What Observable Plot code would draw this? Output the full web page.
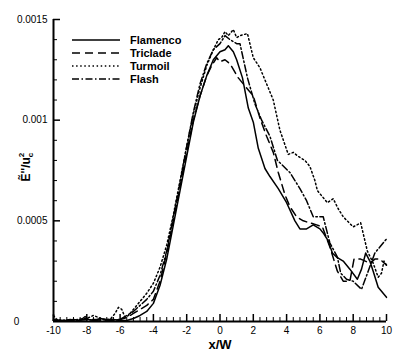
<!DOCTYPE html>
<html><head><meta charset="utf-8">
<script src="https://cdn.jsdelivr.net/npm/d3@7"></script>
<script src="https://cdn.jsdelivr.net/npm/@observablehq/plot@0.6"></script>
<style>
body{margin:0;background:#fff;}
#chart svg{display:block;}
</style></head><body><div id="chart"></div>
<script>
// ---- data (y values in units of 1e-4) ----
const seriesNames = ["Flamenco", "Triclade", "Turmoil", "Flash"];

const flamencoX = [-10,-9.6,-9.2,-8.8,-8.4,-8.1,-7.9,-7.6,-7.2,-6.8,-6.4,-6.0,-5.6,-5.2,-4.8,-4.4,-4.0,-3.6,-3.2,-2.8,-2.4,-2.0,-1.6,-1.2,-0.8,-0.4,0,0.3,0.5,0.8,1.0,1.35,1.7,2.0,2.3,2.7,3.0,3.5,4.0,4.5,4.8,5.2,5.6,6.0,6.2,6.5,6.75,7.0,7.4,7.8,8.25,8.5,8.75,9.0,9.2,9.5,10];
const flamencoY = [0.1,0.05,0.05,0.1,0.05,0.25,0.1,0.05,0.15,0.1,0.1,0.05,0.05,0.15,0.3,0.5,0.9,1.8,3.1,4.8,6.5,8.2,9.9,11.2,12.2,13.0,13.4,13.5,13.7,13.4,13.0,12.1,10.6,9.9,8.6,7.6,7.2,6.6,5.9,5.0,4.6,4.6,4.8,4.6,4.4,4.0,3.4,3.2,3.0,2.6,2.1,2.6,3.4,3.0,2.5,1.7,1.2];

const tricladeX = [-10,-9.5,-9,-8.5,-8,-7.5,-7,-6.5,-6,-5.6,-5.2,-4.8,-4.4,-4.0,-3.6,-3.2,-2.8,-2.4,-2.0,-1.6,-1.2,-0.8,-0.5,-0.2,0,0.3,0.6,1.1,1.7,2.0,2.4,2.8,3.2,3.5,3.9,4.2,4.6,5.0,5.4,5.8,6.15,6.6,7.05,7.4,7.8,8.05,8.45,9.0,9.3,9.6,10];
const tricladeY = [0.05,0.05,0.05,0.1,0.1,0.1,0.05,0.1,0.1,0.2,0.4,0.6,0.8,1.1,2.0,3.4,5.0,6.7,8.4,10.0,11.2,12.2,12.7,13.1,12.9,13.0,12.8,12.1,11.5,11.2,10.1,9.2,8.4,7.4,6.3,5.7,5.2,5.0,4.9,4.8,4.7,3.7,2.5,2.0,2.0,3.1,3.1,2.9,3.1,3.1,2.8];

const turmoilX = [-10,-9.8,-9.5,-9,-8.5,-8,-7.6,-7.3,-7,-6.6,-6.3,-6.1,-5.9,-5.7,-5.5,-5.2,-4.8,-4.4,-4.0,-3.6,-3.2,-2.8,-2.4,-2.0,-1.6,-1.2,-0.8,-0.4,-0.1,0.1,0.3,0.5,0.8,1.0,1.2,1.65,2.0,2.4,2.7,3.2,3.6,4.1,4.4,4.7,5.1,5.4,5.7,5.85,6.45,6.8,7.1,7.4,8.0,8.45,8.85,9.2,9.5,9.7,9.85,10];
const turmoilY = [0.3,0.1,0.05,0.05,0.1,0.15,0.3,0.2,0.1,0.1,0.4,0.7,0.6,0.2,0.3,0.6,1.0,1.4,1.9,2.7,3.8,5.3,7.0,8.7,10.3,11.6,12.7,13.5,14.0,14.1,14.4,14.2,14.5,14.1,14.2,14.3,13.1,12.6,12.0,11.0,9.5,8.3,8.4,8.2,8.0,7.7,7.0,6.5,5.9,6.1,5.6,5.2,4.7,4.9,3.5,2.9,2.2,2.4,3.0,2.8];

const flashX = [-10,-9.5,-9,-8.5,-8,-7.5,-7,-6.5,-6,-5.6,-5.2,-4.8,-4.4,-4.0,-3.6,-3.2,-2.8,-2.4,-2.0,-1.6,-1.2,-0.8,-0.4,0,0.3,0.6,1.0,1.2,1.65,2.1,2.5,3.0,3.45,4.2,4.8,5.2,5.6,6.2,6.6,7.05,7.25,7.6,8.0,8.5,8.9,9.3,9.6,10];
const flashY = [0.05,0.05,0.1,0.05,0.1,0.05,0.1,0.05,0.1,0.3,0.5,0.8,1.1,1.5,2.3,3.5,5.2,6.9,8.7,10.4,11.8,12.8,13.5,13.8,14.2,14.0,13.8,13.8,12.1,10.8,10.0,9.2,8.0,7.4,6.6,6.0,5.2,5.2,3.9,3.2,2.4,2.1,2.0,1.6,2.5,3.4,3.7,4.1];

const xTicks = [-10,-8,-6,-4,-2,0,2,4,6,8,10];
const xTickLabels = ["-10","-8","-6","-4","-2","0","2","4","6","8","10"];
const yTicks = [0.0005, 0.001, 0.0015];
const yTickLabels = ["0.0005","0.001","0.0015"];
const yZeroLabel = "0";
const xLabel = "x/W";

// ---- build ----
const dashes = [null, "8,5", "1.5,2.6", "7,2.5,1.5,2.5"];
const series = [
  {name: seriesNames[0], x: flamencoX, y: flamencoY},
  {name: seriesNames[1], x: tricladeX, y: tricladeY},
  {name: seriesNames[2], x: turmoilX, y: turmoilY},
  {name: seriesNames[3], x: flashX, y: flashY}
].map((s, i) => ({...s, dash: dashes[i], rows: s.x.map((x, j) => ({x, y: s.y[j] * 1e-4}))}));

const W = 407, H = 362, mL = 53, mR = 21, mT = 19, mB = 41;
const fw = W - mL - mR, fh = H - mT - mB;
const xMinor = d3.range(-10, 10.001, 0.4).filter(v => Math.abs(v / 2 - Math.round(v / 2)) > 1e-6);
const yMinor = d3.range(0.0001, 0.00151, 0.0001).filter(v => Math.abs(v / 0.0005 - Math.round(v / 0.0005)) > 1e-6);
const FONT = '"Liberation Sans", Arial, Helvetica, sans-serif';

const plot = Plot.plot({
  width: W, height: H,
  marginLeft: mL, marginRight: mR, marginTop: mT, marginBottom: mB,
  style: {fontFamily: FONT, fontSize: "10px", color: "#000", background: "#fff"},
  x: {domain: [-10, 10]},
  y: {domain: [0, 0.0015]},
  marks: [
    ...series.map(s => Plot.line(s.rows, {x: "x", y: "y", stroke: "#000", strokeWidth: 1.5, strokeDasharray: s.dash})),
    Plot.ruleX(xMinor, {stroke: "#000", strokeWidth: 1, insetTop: fh - 4}),
    Plot.ruleX(xTicks, {stroke: "#000", strokeWidth: 1.5, insetTop: fh - 7}),
    Plot.ruleY(yMinor, {stroke: "#000", strokeWidth: 1, insetRight: fw - 4}),
    Plot.ruleY(yTicks, {stroke: "#000", strokeWidth: 1.5, insetRight: fw - 7}),
    Plot.ruleY([0], {stroke: "#000", strokeWidth: 2}),
    Plot.ruleX([-10], {stroke: "#000", strokeWidth: 2}),
    Plot.axisX({ticks: xTicks, tickSize: 0, tickPadding: 5, label: null, fontSize: 10,
      tickFormat: d => xTickLabels[xTicks.indexOf(d)]}),
    Plot.axisY({ticks: yTicks, tickSize: 0, tickPadding: 6, label: null, fontSize: 10,
      tickFormat: d => yTickLabels[yTicks.indexOf(d)]}),
    Plot.text([yZeroLabel], {x: () => -10, y: () => 0, text: d => d, dx: -37, fontSize: 10}),
    Plot.text([xLabel], {frameAnchor: "bottom", lineAnchor: "middle", text: d => d, dy: 23, fontSize: 13, fontWeight: "bold"}),
    Plot.text(["YLABEL"], {frameAnchor: "left", lineAnchor: "middle", text: d => d, dx: -27, dy: 11, rotate: -90, fontSize: 12, fontWeight: "bold"})
  ]
});

const svg = d3.select(plot);
svg.selectAll("text").filter(function() { return this.textContent === "YLABEL"; }).each(function() {
  const t = d3.select(this);
  t.text(null);
  t.append("tspan").text("Ẽ''/u");
  t.append("tspan").attr("font-size", 8).attr("dy", 3).text("c");
  t.append("tspan").attr("font-size", 8).attr("dx", -4.5).attr("dy", -9).text("2");
});

const lg = svg.append("g").attr("font-family", FONT).attr("text-anchor", "start");
series.forEach((s, i) => {
  const y = 40 + 13 * i;
  lg.append("line").attr("x1", 72).attr("x2", 120).attr("y1", y).attr("y2", y)
    .attr("stroke", "#000").attr("stroke-width", 1.5).attr("stroke-dasharray", s.dash);
  lg.append("text").attr("x", 130).attr("y", y).attr("dy", "0.35em").attr("text-anchor", "start")
    .attr("font-size", 11).attr("font-weight", "bold").attr("fill", "#000").text(s.name);
});

document.getElementById("chart").appendChild(plot);
</script></body></html>
